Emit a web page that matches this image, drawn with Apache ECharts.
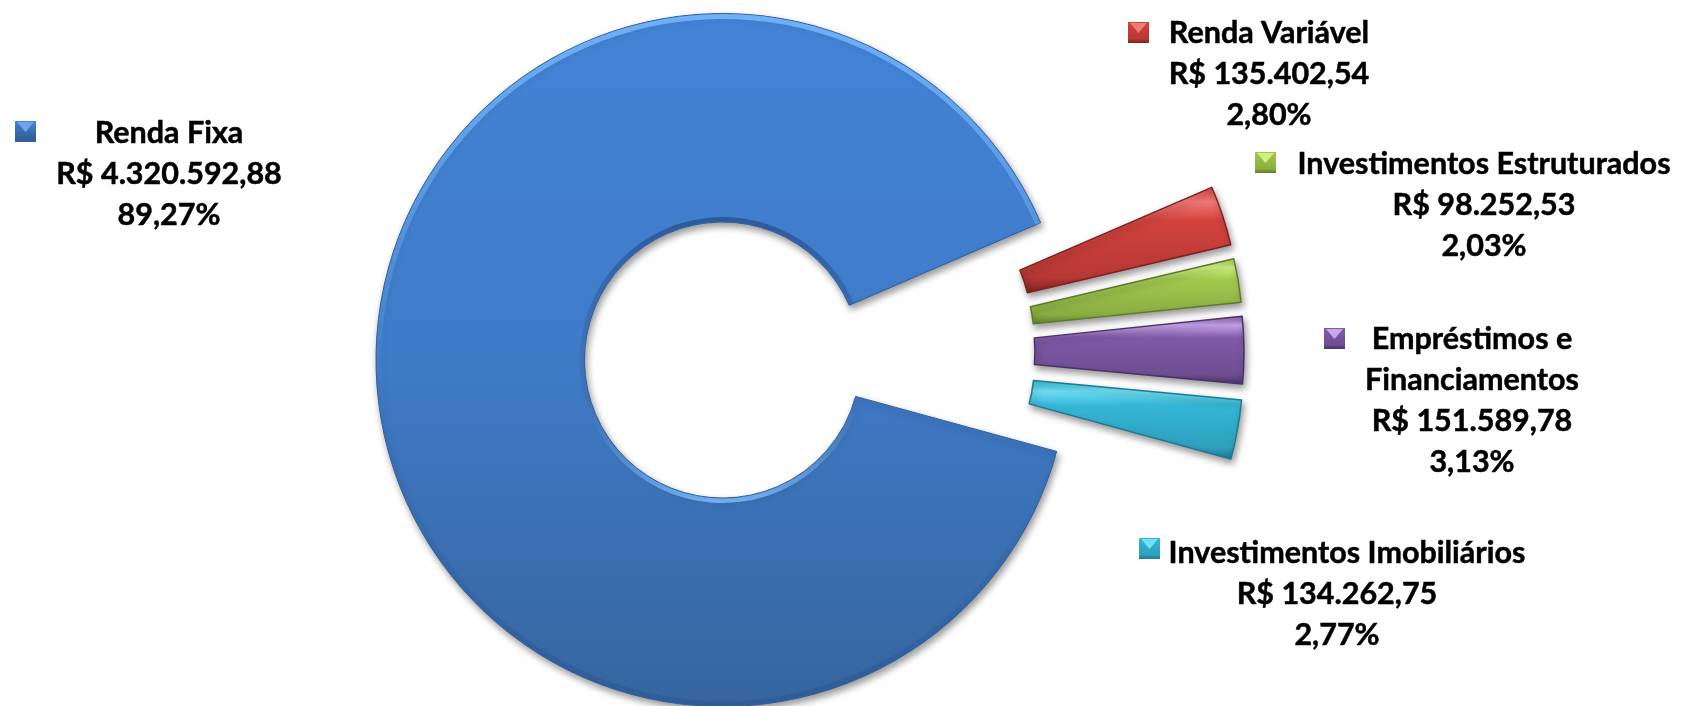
<!DOCTYPE html>
<html><head><meta charset="utf-8">
<style>html,body{margin:0;padding:0;background:#fff}#c{width:1683px;height:706px}</style>
<script src="https://cdn.jsdelivr.net/npm/echarts@6/dist/echarts.min.js"></script>
</head><body><div id="c"></div>
<script>
const categories = ['Renda Fixa','Renda Variável','Investimentos Estruturados','Empréstimos e\nFinanciamentos','Investimentos Imobiliários'];
const values = [4320592.88,135402.54,98252.53,151589.78,134262.75];
const valueLabels = ['R$ 4.320.592,88','R$ 135.402,54','R$ 98.252,53','R$ 151.589,78','R$ 134.262,75'];
const percentLabels = ['89,27%','2,80%','2,03%','3,13%','2,77%'];

const palette = [
  {hi:'#6aa6ee',top:'#4585d6',bot:'#335f97',edge:'#2f5f9f'},
  {hi:'#f07a76',top:'#d2423d',bot:'#b73835',edge:'#7e2220'},
  {hi:'#cdf07e',top:'#a3c94f',bot:'#8bad41',edge:'#5f7a2a'},
  {hi:'#c8a4ec',top:'#8059a8',bot:'#6f4e92',edge:'#4a3266'},
  {hi:'#6fe0f5',top:'#35b6d6',bot:'#2da0bd',edge:'#1c7a92'}
];
const sliceCenters = [[722.5,360],[895,324],[898,338],[899,352],[898,368]];
const sliceRadii = [[138,346.5],[136,345],[136,345],[136,345],[136,345]];
const labelPos = [[169,174],[1269,74],[1484,205],[1472,401],[1337,594]];
const keyPos = [[15,121],[1128,22],[1255,152],[1324,328],[1139,538]];
const firstLineShift = [0,0,0,0,20];
const startAngle = -15.3;

const textStyle = {color:'#000',fontFamily:'Lato',fontWeight:'bold',fontSize:30.5,lineHeight:41,textBorderColor:'#000',textBorderWidth:0.5};

function grad(p,i){
  if(i===0) return {type:'linear',x:0,y:0,x2:0,y2:1,colorStops:[
    {offset:0,color:'#4383d6'},{offset:.5,color:'#3f7bc8'},{offset:1,color:'#36659f'}]};
  return {type:'linear',x:0,y:0,x2:0,y2:1,colorStops:[
    {offset:0,color:p.top},{offset:.14,color:p.hi},{offset:.32,color:p.top},{offset:.85,color:p.bot},{offset:1,color:p.edge}]};
}
function bevelRing(radius,stops){
  return {type:'pie',silent:true,center:sliceCenters[0],radius,startAngle,clockwise:true,
    label:{show:false},labelLine:{show:false},
    data:values.map((v,i)=>({value:v,itemStyle:i===0?{color:{type:'linear',x:0,y:0,x2:0,y2:1,colorStops:stops}}:{opacity:0}}))};
}
const chart = echarts.init(document.getElementById('c'),null,{renderer:'canvas'});
chart.setOption({
  animation:false,
  backgroundColor:'#fff',
  graphic:keyPos.map((k,i)=>({
    type:'group',x:k[0],y:k[1],silent:true,children:[
      {type:'rect',shape:{x:0,y:0,width:21,height:21},style:{fill:{type:'linear',x:0,y:0,x2:0,y2:1,colorStops:[
        {offset:0,color:palette[i].top},{offset:.8,color:palette[i].bot},{offset:1,color:palette[i].edge}]}}},
      {type:'polygon',shape:{points:[[2,1],[19,1],[10.5,11]]},style:{fill:palette[i].hi}}
    ]
  })),
  series:categories.map((_,s)=>({
    type:'pie',
    silent:true,
    center:sliceCenters[s],
    radius:sliceRadii[s],
    startAngle,
    clockwise:true,
    avoidLabelOverlap:false,
    labelLine:{show:false},
    labelLayout:p=>({x:labelPos[p.dataIndex][0],y:labelPos[p.dataIndex][1],align:'center',verticalAlign:'middle'}),
    data:categories.map((n,i)=>({
      name:n,value:values[i],
      label:{show:i===s,position:'outside',align:'center',...textStyle,
        rich:{n:{...textStyle,padding:[0,0,0,firstLineShift[i]]}},
        formatter:p=>[firstLineShift[p.dataIndex]?'{n|'+p.name+'}':p.name,valueLabels[p.dataIndex],percentLabels[p.dataIndex]].join('\n')},
      itemStyle:i===s?{color:grad(palette[i],i),borderColor:palette[i].edge,borderWidth:i===0?1:1.5,
        shadowBlur:7,shadowOffsetX:2,shadowOffsetY:4,shadowColor:'rgba(0,0,0,0.4)'}:{opacity:0}
    }))
  })).concat([
    bevelRing([341,346],[{offset:0,color:'rgba(120,185,255,0.85)'},{offset:.45,color:'rgba(120,185,255,0.2)'},{offset:.7,color:'rgba(40,80,140,0)'},{offset:1,color:'rgba(40,80,140,0.4)'}]),
    bevelRing([138.5,143],[{offset:0,color:'rgba(30,60,110,0.55)'},{offset:.5,color:'rgba(40,80,140,0.12)'},{offset:1,color:'rgba(130,190,255,0.8)'}])
  ])
});
</script></body></html>
